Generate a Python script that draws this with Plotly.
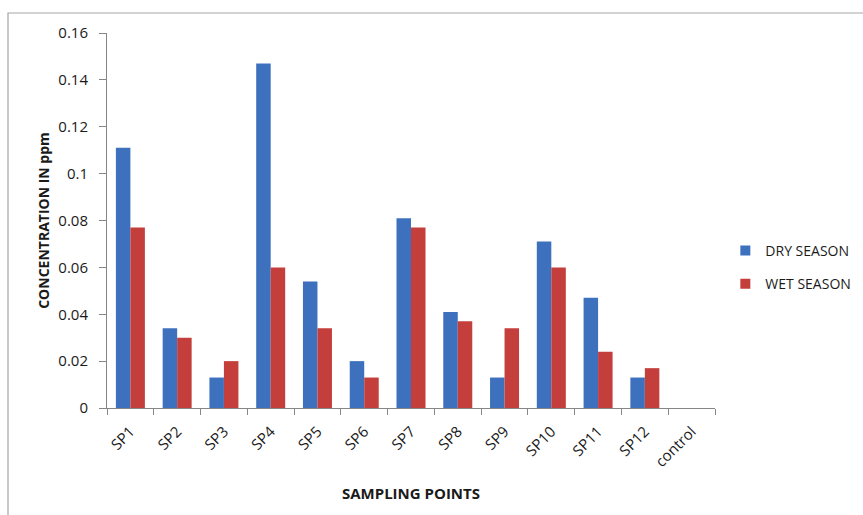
import plotly.graph_objects as go

categories = ["SP1", "SP2", "SP3", "SP4", "SP5", "SP6", "SP7", "SP8", "SP9", "SP10", "SP11", "SP12", "control"]
dry_season = [0.111, 0.034, 0.013, 0.147, 0.054, 0.020, 0.081, 0.041, 0.013, 0.071, 0.047, 0.013, 0]
wet_season = [0.077, 0.030, 0.020, 0.060, 0.034, 0.013, 0.077, 0.037, 0.034, 0.060, 0.024, 0.017, 0]
y_ticks = [0, 0.02, 0.04, 0.06, 0.08, 0.1, 0.12, 0.14, 0.16]
y_tick_labels = ["0", "0.02", "0.04", "0.06", "0.08", "0.1", "0.12", "0.14", "0.16"]
series_names = ["DRY SEASON", "WET SEASON"]
series_colors = ["#3D71BE", "#C43E3C"]

FONT = "Open Sans"
TXT = "#1a1a1a"
W, H = 863, 515
L, R, T, B = 107, 148, 33, 107

fig = go.Figure()
for vals, name, col in zip([dry_season, wet_season], series_names, series_colors):
    fig.add_trace(go.Bar(x=categories, y=vals, name=name, showlegend=False,
                         marker=dict(color=col, line=dict(width=0))))
for i, (name, col) in enumerate(zip(series_names, series_colors)):
    fig.add_trace(go.Scatter(x=[None], y=[None], mode="markers", name=name,
                             legendgroup=str(i),
                             marker=dict(symbol="square", size=10, color=col)))

pw = W - L - R
ph = H - T - B
fig.add_shape(type="rect", xref="paper", yref="paper",
              x0=(8 - L) / pw, x1=(W + 10 - L) / pw,
              y0=-(H + 10 - T - ph) / ph, y1=(H - B - 13) / ph,
              line=dict(color="#A6A6A6", width=1.2), fillcolor="rgba(0,0,0,0)", layer="below")

fig.update_layout(
    width=W, height=H,
    margin=dict(l=L, r=R, t=T, b=B, autoexpand=False),
    paper_bgcolor="white", plot_bgcolor="white",
    barmode="group", bargap=0.38, bargroupgap=0,
    font=dict(family=FONT, size=14, color=TXT),
    showlegend=True,
    legend=dict(x=1.017, y=0.375, xanchor="left", yanchor="middle",
                traceorder="grouped", tracegroupgap=12,
                font=dict(family=FONT, size=14, color=TXT),
                bgcolor="rgba(0,0,0,0)", itemwidth=30),
    xaxis=dict(
        automargin=False,
        showline=True, linecolor="#868686", linewidth=1,
        ticks="outside", ticklen=6, tickcolor="#868686",
        tickson="boundaries", tickangle=-45,
        ticklabelstandoff=8,
        tickfont=dict(family=FONT, size=15, color=TXT),
        title=dict(text="<b>SAMPLING POINTS</b>", font=dict(family=FONT, size=15, color=TXT), standoff=18),
        showgrid=False, zeroline=False,
    ),
    yaxis=dict(
        automargin=False,
        range=[0, 0.16],
        tickvals=y_ticks, ticktext=y_tick_labels,
        showline=True, linecolor="#868686", linewidth=1,
        ticks="outside", ticklen=7, tickcolor="#868686",
        ticklabelstandoff=8,
        tickfont=dict(family=FONT, size=15, color=TXT),
        title=dict(text="<b>CONCENTRATION IN ppm</b>", font=dict(family=FONT, size=14, color=TXT), standoff=5),
        showgrid=False, zeroline=False,
    ),
)

fig.write_html("out.html", config={"displayModeBar": False},
               post_script="document.body.style.margin='0';")
